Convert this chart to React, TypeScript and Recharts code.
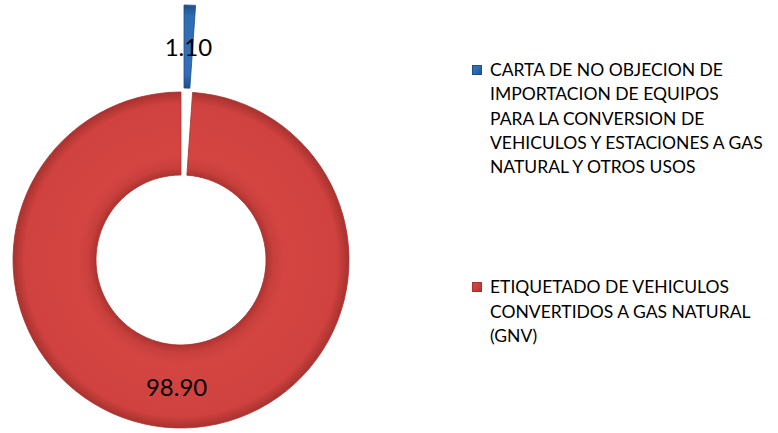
import { PieChart, Pie, Cell, Legend } from "recharts";

const categories = [
  "CARTA DE NO OBJECION DE\nIMPORTACION DE EQUIPOS\nPARA LA CONVERSION DE\nVEHICULOS Y ESTACIONES A GAS\nNATURAL Y OTROS USOS",
  "ETIQUETADO DE VEHICULOS\nCONVERTIDOS A GAS NATURAL\n(GNV)",
];
const values = [1.1, 98.9];
const exploded = [true, false];

const COLORS = ["#2F6DB5", "#D0423F"];
const STROKES = ["#1F4F8A", "#A8322F"];
const RADIAN = Math.PI / 180;

const data = categories.map((name, i) => ({ name, value: values[i] }));

// label at the middle of the ring, only for the slices this pie draws
const makeLabel = (showExploded: boolean) => (props: any) => {
  const { cx, cy, midAngle, innerRadius, outerRadius, index, value } = props;
  if (exploded[index] !== showExploded) return null;
  const r = (innerRadius + outerRadius) / 2;
  const x = cx + r * Math.cos(-midAngle * RADIAN);
  const y = cy + r * Math.sin(-midAngle * RADIAN);
  return (
    <text
      x={x}
      y={y}
      textAnchor="middle"
      dominantBaseline="central"
      fill="#000"
      fontSize={24}
      fontFamily="Lato, sans-serif"
    >
      {Number(value).toFixed(2)}
    </text>
  );
};

function LegendBox() {
  return (
    <div style={{ fontFamily: "Lato, sans-serif", fontSize: 17.5, lineHeight: "24.3px", color: "#000" }}>
      {categories.map((name, i) => (
        <div key={name} style={{ display: "flex", alignItems: "flex-start", marginBottom: i === 0 ? 96 : 0 }}>
          <span
            style={{
              display: "inline-block",
              width: 10,
              height: 10,
              marginTop: 7,
              marginRight: 8,
              flexShrink: 0,
              background: `linear-gradient(135deg, ${COLORS[i]} 40%, ${STROKES[i]})`,
              boxShadow: `inset 0 0 0 1px ${STROKES[i]}`,
            }}
          />
          <span style={{ whiteSpace: "pre-line" }}>{name}</span>
        </div>
      ))}
    </div>
  );
}

export default function App() {
  return (
    <div style={{ position: "absolute", left: 0, top: 0, background: "#fff" }}>
      <PieChart width={778} height={433} margin={{ top: 0, right: 0, bottom: 0, left: 0 }}>
        <defs>
          <radialGradient id="redBevel" gradientUnits="userSpaceOnUse" cx={181} cy={260} r={168}>
            <stop offset="0.5" stopColor="#A8322F" />
            <stop offset="0.55" stopColor="#C83F3C" />
            <stop offset="0.62" stopColor="#D44542" />
            <stop offset="0.93" stopColor="#D0423F" />
            <stop offset="1" stopColor="#A8322F" />
          </radialGradient>
          <radialGradient id="blueBevel" gradientUnits="userSpaceOnUse" cx={184} cy={173} r={168}>
            <stop offset="0.5" stopColor="#1F4F8A" />
            <stop offset="0.6" stopColor="#336FB8" />
            <stop offset="0.93" stopColor="#2F6DB5" />
            <stop offset="1" stopColor="#1F4F8A" />
          </radialGradient>
        </defs>
        <Pie
          data={data}
          dataKey="value"
          cx={181}
          cy={260}
          innerRadius={85}
          outerRadius={168}
          startAngle={90}
          endAngle={-270}
          stroke="none"
          label={makeLabel(false)}
          labelLine={false}
          isAnimationActive={false}
        >
          {data.map((_, i) => (
            <Cell
              key={i}
              fill={exploded[i] ? "transparent" : "url(#redBevel)"}
              stroke={exploded[i] ? "none" : STROKES[i]}
              strokeWidth={0.8}
            />
          ))}
        </Pie>
        <Pie
          data={data}
          dataKey="value"
          cx={184}
          cy={173}
          innerRadius={85}
          outerRadius={168}
          startAngle={90}
          endAngle={-270}
          stroke="none"
          label={makeLabel(true)}
          labelLine={false}
          isAnimationActive={false}
        >
          {data.map((_, i) => (
            <Cell
              key={i}
              fill={exploded[i] ? "url(#blueBevel)" : "transparent"}
              stroke={exploded[i] ? STROKES[i] : "none"}
              strokeWidth={0.8}
            />
          ))}
        </Pie>
        <Legend
          layout="vertical"
          align="right"
          verticalAlign="top"
          content={() => <LegendBox />}
          wrapperStyle={{ left: 472, top: 58, width: 306 }}
        />
      </PieChart>
    </div>
  );
}
